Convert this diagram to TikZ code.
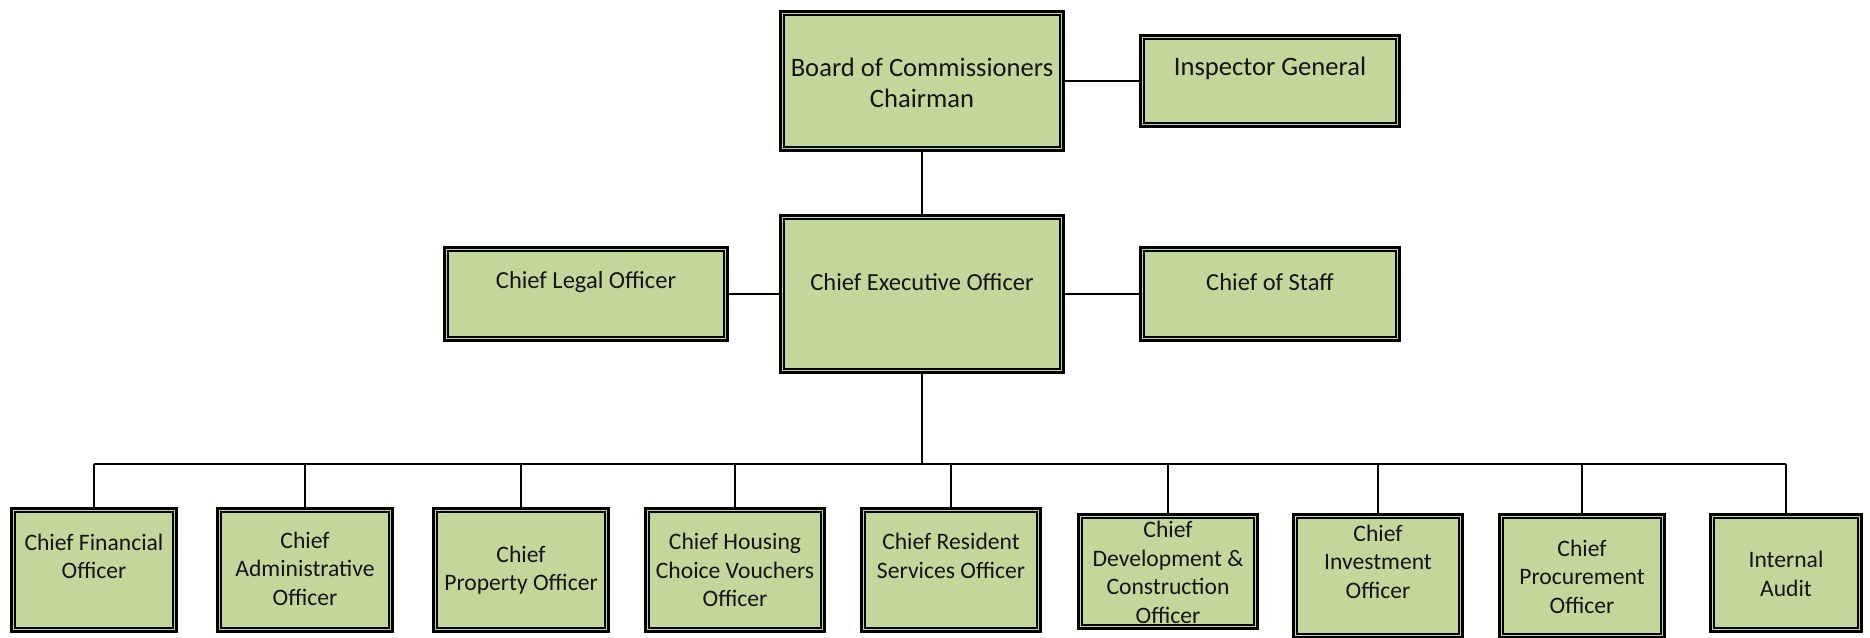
\documentclass[tikz,border=0pt]{standalone}
\usepackage{fontspec}
\setmainfont{Carlito}
\definecolor{boxgreen}{HTML}{C4D79B}
% a box with a double frame: heavy outer rule, thin inner rule
\newcommand\orgbox[5]{%
  \node[orgbox, minimum width={#4-#2-2.6}, minimum height={#5-#3-2.6}] (#1) at ({(#2+#4)/2},{(#3+#5)/2}) {};
  \draw[innerframe] ([xshift=4.8pt,yshift=4.8pt]#1.south west) rectangle ([xshift=-4.8pt,yshift=-4.8pt]#1.north east);
}
\begin{document}
\begin{tikzpicture}[x=1pt,y=-1pt,
  orgbox/.style={draw=black, line width=2.6pt, fill=boxgreen, inner sep=0pt},
  innerframe/.style={draw=black, line width=1.7pt},
  link/.style={draw=black, line width=2pt},
  toptext/.style={align=center, inner sep=0pt, text=black!92, font=\fontsize{26.6}{31}\selectfont},
  midtext/.style={align=center, inner sep=0pt, text=black!92, font=\fontsize{24.5}{29}\selectfont},
  bottext/.style={align=center, inner sep=0pt, text=black!92, font=\fontsize{23.6}{28.6}\selectfont},
]
\clip (0,0) rectangle (1870,637);
\fill[white] (0,0) rectangle (1870,637);

% top level
\orgbox{board}{779}{10}{1065}{152}
\orgbox{ig}{1139}{34}{1401}{128}
% second level
\orgbox{ceo}{779}{214}{1065}{374}
\orgbox{clo}{443}{246}{729}{342}
\orgbox{cos}{1139}{246}{1401}{342}
% direct reports of the CEO
\orgbox{cfo}{10}{507}{178}{633}
\orgbox{cao}{216}{507}{394}{633}
\orgbox{cpo}{432}{507}{610}{633}
\orgbox{chcv}{644}{507}{826}{633}
\orgbox{crso}{860}{507}{1042}{633}
\orgbox{cdco}{1077}{513}{1259}{630}
\orgbox{cio}{1292}{513}{1464}{639}
\orgbox{cpro}{1498}{513}{1666}{639}
\orgbox{ia}{1709}{513}{1863}{633}

% labels
\node[toptext] (board-t) at (922,82.5) {Board of Commissioners\\Chairman};
\node[toptext] (ig-t) at (1270,68) {Inspector General};
\node[midtext] (ceo-t) at (922,282.4) {Chief Executive Officer};
\node[midtext] (clo-t) at (586,282.4) {Chief Legal Officer};
\node[midtext] (cos-t) at (1270,282.4) {Chief of Staff};
\node[bottext] (cfo-t) at (94,556.3) {Chief Financial\\Officer};
\node[bottext] (cao-t) at (305,568.8) {Chief\\Administrative\\Officer};
\node[bottext] (cpo-t) at (521,570.1) {Chief\\Property Officer};
\node[bottext] (chcv-t) at (735,570) {Chief Housing\\Choice Vouchers\\Officer};
\node[bottext] (crso-t) at (951,555.7) {Chief Resident\\Services Officer};
\node[bottext] (cdco-t) at (1168,572.2) {Chief\\Development \&\\Construction\\Officer};
\node[bottext] (cio-t) at (1378,561.7) {Chief\\Investment\\Officer};
\node[bottext] (cpro-t) at (1582,576.8) {Chief\\Procurement\\Officer};
\node[bottext] (ia-t) at (1786,573.7) {Internal\\Audit};

% connectors
\draw[link] (board.east) -- (board.east -| ig.west);
\draw[link] (board.south) -- (ceo.north);
\draw[link] (clo.east) -- (clo.east -| ceo.west);
\draw[link] (ceo.east) -- (ceo.east -| cos.west);
\coordinate (bus) at (922,464);
\draw[link] (ceo.south) -- (bus);
\draw[link] (cfo.north |- bus) -- (ia.north |- bus);
\foreach \n in {cfo,cao,cpo,chcv,crso,cdco,cio,cpro,ia}
  \draw[link] (\n.north |- bus) -- (\n.north);
\end{tikzpicture}
\end{document}
